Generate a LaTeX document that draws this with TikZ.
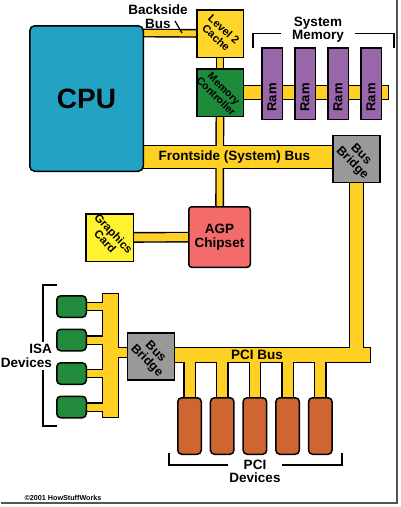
\documentclass[tikz,border=0pt]{standalone}
\usepackage{fontspec}
\setmainfont{Liberation Sans}
\usepackage{tikz}
\usetikzlibrary{positioning, calc, backgrounds}
\definecolor{CpuBlue}{HTML}{23A3C4}
\definecolor{BusYellow}{HTML}{FFD024}
\definecolor{CacheYellow}{HTML}{FFD42B}
\definecolor{CtrlGreen}{HTML}{1E8B3C}
\definecolor{RamPurple}{HTML}{9966AA}
\definecolor{BridgeGray}{HTML}{999999}
\definecolor{AgpRed}{HTML}{F46B6B}
\definecolor{CardYellow}{HTML}{FFF22E}
\definecolor{IsaGreen}{HTML}{218A3B}
\definecolor{PciOrange}{HTML}{CF6530}
\definecolor{ShadowGray}{HTML}{555555}
\tikzstyle{box} = [rectangle, draw=black, line width=1.5pt, inner sep=0pt, outer sep=0pt, text centered]
\tikzstyle{cpubox} = [box, rounded corners=5pt, fill=CpuBlue, minimum width=113.5pt, minimum height=145.5pt, font=\bfseries\fontsize{28}{28}\selectfont]
\tikzstyle{cachebox} = [box, fill=CacheYellow, minimum width=46.5pt, minimum height=47.5pt]
\tikzstyle{ctrlbox} = [box, fill=CtrlGreen, minimum width=46.5pt, minimum height=47.5pt]
\tikzstyle{rambox} = [box, fill=RamPurple, minimum width=20.5pt, minimum height=71.5pt]
\tikzstyle{bridgebox} = [box, fill=BridgeGray, minimum width=47pt, minimum height=47pt]
\tikzstyle{agpbox} = [box, rounded corners=3pt, fill=AgpRed, minimum width=61.5pt, minimum height=60.5pt, align=center, font=\bfseries\fontsize{13.5}{13.5}\selectfont]
\tikzstyle{cardbox} = [box, fill=CardYellow, minimum width=47.5pt, minimum height=47.5pt]
\tikzstyle{isabox} = [box, rounded corners=4pt, fill=IsaGreen, minimum width=29.5pt, minimum height=21.5pt]
\tikzstyle{pcibox} = [box, rounded corners=4pt, fill=PciOrange, minimum width=23.5pt, minimum height=56.5pt]
\tikzstyle{boxtext} = [inner sep=0pt, align=center, rotate=-45, font=\bfseries\fontsize{11}{11.5}\selectfont]
\tikzstyle{bridgetext} = [boxtext, font=\bfseries\fontsize{12.5}{12.5}\selectfont]
\tikzstyle{ramtext} = [inner sep=0pt, rotate=90, font=\bfseries\fontsize{13}{13}\selectfont]
\tikzstyle{labeltext} = [inner sep=0pt, align=center, font=\bfseries\fontsize{13.5}{13.5}\selectfont]
\tikzstyle{copytext} = [inner sep=0pt, font=\bfseries\fontsize{7.2}{8}\selectfont]
\tikzstyle{bracket} = [line width=1.6pt, draw=black]
\tikzstyle{leader} = [line width=1.2pt, draw=black]
\tikzset{bus/.style={draw=\BusColor, line width=#1pt+\BusExtra, line cap=rect}}

\begin{document}
\begin{tikzpicture}[x=1pt, y=1pt, node distance = 11pt]
		\useasboundingbox (0,0) rectangle (400,-507);

		\node (CPU) [cpubox] at (86.5,-98.5) {CPU};
		\node (L2) [cachebox] at (220,-33.5) {};
		\node (L2Text) [boxtext, rotate=3] at (L2) {Level 2\\Cache};
		\node (MC) [ctrlbox] at (220,-92.5) {};
		\node (MCText) [boxtext, font=\bfseries\fontsize{10.5}{11}\selectfont] at (MC) {Memory\\Controller};
		\node (Ram01) [rambox] at (272,-83.5) {};
		\node (Ram02) [rambox, right = 12.5pt of Ram01] {};
		\node (Ram03) [rambox, right = 12.5pt of Ram02] {};
		\node (Ram04) [rambox, right = 12.5pt of Ram03] {};
		\node (Ram01Text) [ramtext] at ($(Ram01)+(0,-14)$) {Ram};
		\node (Ram02Text) [ramtext] at ($(Ram02)+(0,-14)$) {Ram};
		\node (Ram03Text) [ramtext] at ($(Ram03)+(0,-14)$) {Ram};
		\node (Ram04Text) [ramtext] at ($(Ram04)+(0,-14)$) {Ram};
		\node (Bridge01) [bridgebox] at (356.5,-159) {};
		\node (Bridge01Text) [bridgetext] at (Bridge01) {Bus\\Bridge};
		\node (AGP) [agpbox] at (219.5,-237) {AGP\\Chipset};
		\node (Graphics) [cardbox] at (109.5,-237.5) {};
		\node (GraphicsText) [boxtext, rotate=-2, font=\bfseries\fontsize{11.5}{11.5}\selectfont] at (Graphics) {Graphics\\Card};
		\node (Bridge02) [bridgebox] at (151,-356.5) {};
		\node (Bridge02Text) [bridgetext] at (Bridge02) {Bus\\Bridge};

		\node (ISA01) [isabox] at (71.5,-306.5) {};
		\node (ISA02) [isabox, below = 12pt of ISA01] {};
		\node (ISA03) [isabox, below = 12pt of ISA02] {};
		\node (ISA04) [isabox, below = 12pt of ISA03] {};

		\node (PCI01) [pcibox] at (189.5,-426) {};
		\node (PCI02) [pcibox, right = 9.2pt of PCI01] {};
		\node (PCI03) [pcibox, right = 9.2pt of PCI02] {};
		\node (PCI04) [pcibox, right = 9.2pt of PCI03] {};
		\node (PCI05) [pcibox, right = 9.2pt of PCI04] {};

		% brackets, the labels sit on them
		\coordinate (MemBracket01) at (253,-48);
		\coordinate (MemBracket02) at (394,-48);
		\coordinate (ISABracket01) at (57,-285);
		\coordinate (ISABracket02) at (57,-426);
		\coordinate (PCIBracket01) at (169,-453);
		\coordinate (PCIBracket02) at (342,-453);
		\draw [bracket] (MemBracket01) -- ++(0,14.5) -| (MemBracket02);
		\draw [bracket] (ISABracket01) -- ++(-14,0) |- (ISABracket02);
		\draw [bracket] (PCIBracket01) -- ++(0,-12) -| (PCIBracket02);

		\node (BacksideText) [labeltext] at (158,-16.5) {Backside\\Bus};
		\node (SysMemText) [labeltext, fill=white, inner xsep=11pt, inner ysep=0.5pt] at (318,-29.5) {System\\Memory};
		\node (ISAText) [labeltext, fill=white, align=right, anchor=east, inner sep=2pt] at (54,-356) {ISA\\Devices};
		\node (PCIText) [labeltext, fill=white, inner xsep=1pt] at (255,-471.5) {PCI\\Devices};
		\node (FSBText) [labeltext] at (234.5,-157) {Frontside (System) Bus};
		\node (PCIBusText) [labeltext] at (257,-355) {PCI Bus};
		\node (Copyright) [copytext] at (63,-498) {©2001 HowStuffWorks};

		\coordinate (Leader01) at (175,-21);
		\coordinate (Leader02) at (182,-33);
		\draw [leader] (Leader01) -- (Leader02);

		% buses: black pass first, then yellow pass
		\coordinate (BacksideStart) at (140,-33);
		\coordinate (FSBStart) at (140,-157);
		\coordinate (PCIStart) at (172,-355);
		\coordinate (PCIEnd) at (363,-355);
		\coordinate (ISATop) at (110.5,-301.5);
		\coordinate (ISABottom) at (110.5,-409.5);
		\coordinate (ISAJoin) at (110.5,-352.5);
		\begin{scope}[on background layer]
		\foreach \BusExtra/\BusColor in {2.8pt/black, 0pt/BusYellow}{
			\draw [bus=6] (BacksideStart) -- (L2);
			\draw [bus=6] (L2) -- (MC);
			\draw [bus=6] (MC) -- (AGP);
			\draw [bus=22] (FSBStart) -- (FSBStart -| Bridge01.west);
			\draw [bus=13] (MC) -- (MC -| Ram04.east);
			\draw [bus=8] (Graphics) -- (AGP);
			\draw [bus=13] (Bridge01) -- (Bridge01 |- PCIStart);
			\draw [bus=14] (PCIStart) -- (PCIEnd);
			\draw [bus=15] (ISATop) -- (ISABottom);
			\draw [bus=9] (ISAJoin) -- (ISAJoin -| Bridge02.west);
			\draw [bus=7] (ISA01) -- (ISA01 -| ISATop);
			\draw [bus=7] (ISA02) -- (ISA02 -| ISATop);
			\draw [bus=7] (ISA03) -- (ISA03 -| ISATop);
			\draw [bus=7] (ISA04) -- (ISA04 -| ISATop);
			\draw [bus=10] (PCI01) -- (PCI01 |- PCIStart);
			\draw [bus=10] (PCI02) -- (PCI02 |- PCIStart);
			\draw [bus=10] (PCI03) -- (PCI03 |- PCIStart);
			\draw [bus=10] (PCI04) -- (PCI04 |- PCIStart);
			\draw [bus=10] (PCI05) -- (PCI05 |- PCIStart);
		}
		\end{scope}

		\draw [ShadowGray, line width=2.5pt] (1,-503) -| (397,0);
	\end{tikzpicture}
\end{document}
